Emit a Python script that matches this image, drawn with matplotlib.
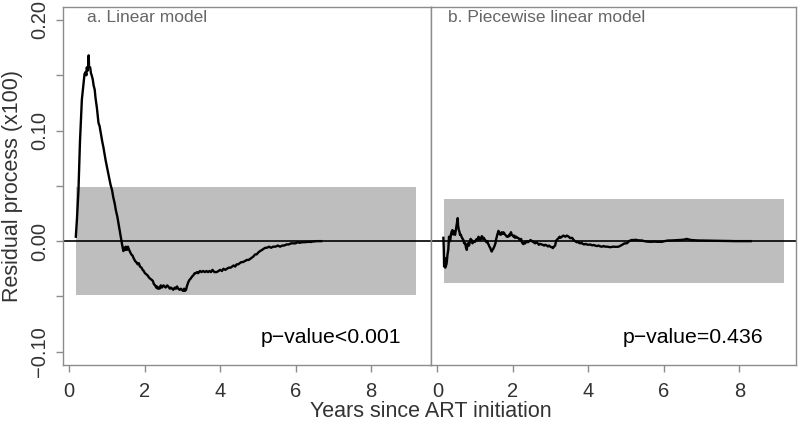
import matplotlib
matplotlib.use("Agg")
import matplotlib.pyplot as plt
from matplotlib.patches import Rectangle
from matplotlib.ticker import FixedLocator, FuncFormatter

plt.rcParams['font.family'] = ['Liberation Sans', 'DejaVu Sans']

# ---- data: (years, residual) pairs ----
lin_pts = [(0.18, 0.004), (0.21, 0.020), (0.25, 0.046), (0.29, 0.090), (0.32, 0.112), (0.34, 0.128),
           (0.37, 0.138), (0.41, 0.151), (0.44, 0.153), (0.46, 0.150), (0.47, 0.157), (0.49, 0.154),
           (0.51, 0.160), (0.52, 0.168), (0.53, 0.158), (0.56, 0.157), (0.58, 0.152), (0.60, 0.150),
           (0.63, 0.146), (0.65, 0.141), (0.68, 0.137), (0.70, 0.130), (0.74, 0.120), (0.78, 0.107),
           (0.81, 0.104), (0.84, 0.098), (0.88, 0.090), (0.91, 0.085), (0.94, 0.079), (0.97, 0.073),
           (1.01, 0.066), (1.04, 0.061), (1.07, 0.056), (1.10, 0.051), (1.14, 0.046), (1.17, 0.040),
           (1.21, 0.034), (1.24, 0.028), (1.28, 0.022), (1.31, 0.016), (1.36, 0.006), (1.41, -0.004),
           (1.44, -0.009), (1.46, -0.006), (1.48, -0.008), (1.50, -0.005), (1.53, -0.008), (1.56, -0.005),
           (1.58, -0.007), (1.62, -0.010), (1.65, -0.012), (1.68, -0.013), (1.72, -0.016), (1.75, -0.018),
           (1.78, -0.019), (1.82, -0.021), (1.85, -0.020), (1.88, -0.023), (1.92, -0.024), (1.95, -0.026),
           (1.98, -0.027), (2.01, -0.029), (2.05, -0.030), (2.08, -0.031), (2.12, -0.033), (2.15, -0.034),
           (2.19, -0.035), (2.22, -0.036), (2.25, -0.039), (2.28, -0.040), (2.31, -0.042), (2.33, -0.041),
           (2.35, -0.043), (2.37, -0.042), (2.40, -0.043), (2.43, -0.040), (2.46, -0.042), (2.50, -0.040),
           (2.53, -0.041), (2.56, -0.042), (2.60, -0.040), (2.63, -0.041), (2.67, -0.043), (2.70, -0.042),
           (2.73, -0.043), (2.76, -0.044), (2.80, -0.042), (2.83, -0.043), (2.86, -0.041), (2.89, -0.043),
           (2.93, -0.044), (2.96, -0.043), (2.99, -0.044), (3.02, -0.045), (3.05, -0.043), (3.07, -0.045),
           (3.10, -0.044), (3.12, -0.041), (3.16, -0.037), (3.19, -0.035), (3.22, -0.034), (3.26, -0.032),
           (3.29, -0.031), (3.33, -0.029), (3.36, -0.029), (3.39, -0.028), (3.42, -0.029), (3.47, -0.027),
           (3.51, -0.028), (3.55, -0.027), (3.60, -0.028), (3.64, -0.027), (3.68, -0.028), (3.72, -0.027),
           (3.76, -0.028), (3.80, -0.026), (3.85, -0.028), (3.91, -0.028), (3.96, -0.027), (4.00, -0.026),
           (4.05, -0.027), (4.09, -0.025), (4.14, -0.026), (4.18, -0.025), (4.23, -0.024), (4.28, -0.024),
           (4.32, -0.023), (4.36, -0.022), (4.40, -0.023), (4.44, -0.021), (4.48, -0.021), (4.52, -0.020),
           (4.56, -0.019), (4.60, -0.019), (4.66, -0.018), (4.71, -0.017), (4.76, -0.017), (4.80, -0.016),
           (4.84, -0.015), (4.88, -0.014), (4.93, -0.012), (4.97, -0.012), (5.02, -0.010), (5.06, -0.009),
           (5.11, -0.008), (5.15, -0.007), (5.20, -0.006), (5.24, -0.006), (5.30, -0.005), (5.35, -0.006),
           (5.41, -0.005), (5.47, -0.005), (5.53, -0.004), (5.59, -0.005), (5.65, -0.004), (5.70, -0.004),
           (5.76, -0.003), (5.82, -0.003), (5.88, -0.002), (5.94, -0.002), (6.00, -0.002), (6.05, -0.001),
           (6.11, -0.0015), (6.17, -0.001), (6.23, -0.001), (6.29, -0.0008), (6.35, -0.0006),
           (6.40, -0.0008), (6.45, -0.0004), (6.50, -0.0002), (6.58, 0.0), (6.68, 0.0)]

pw_pts = [(0.16, 0.003), (0.17, -0.006), (0.18, -0.023), (0.19, -0.015), (0.20, -0.020), (0.21, -0.024),
          (0.22, -0.017), (0.23, -0.022), (0.25, -0.019), (0.27, -0.012), (0.29, -0.008), (0.31, 0.004),
          (0.33, 0.001), (0.34, 0.0), (0.36, 0.006), (0.38, 0.0087), (0.40, 0.010), (0.42, 0.006),
          (0.44, 0.009), (0.45, 0.008), (0.47, 0.0057), (0.49, 0.010), (0.50, 0.012), (0.52, 0.016),
          (0.54, 0.0208), (0.55, 0.014), (0.57, 0.010), (0.59, 0.008), (0.60, 0.0057), (0.62, 0.006),
          (0.64, 0.004), (0.66, 0.0027), (0.69, 0.001), (0.71, -0.002), (0.74, -0.002), (0.76, -0.006),
          (0.78, -0.0079), (0.80, -0.003), (0.82, -0.0018), (0.84, -0.004), (0.86, -0.001), (0.88, 0.002),
          (0.91, 0.001), (0.93, -0.002), (0.95, -0.001), (0.98, 0.0), (1.00, -0.0006), (1.02, 0.001),
          (1.05, 0.002), (1.07, 0.001), (1.09, 0.004), (1.12, 0.002), (1.14, 0.001), (1.16, 0.003),
          (1.18, 0.0045), (1.21, 0.002), (1.23, 0.003), (1.25, 0.0015), (1.27, 0.001), (1.30, -0.001),
          (1.32, 0.0), (1.34, -0.002), (1.36, -0.0033), (1.38, -0.005), (1.40, -0.006), (1.42, -0.008),
          (1.44, -0.0094), (1.46, -0.008), (1.48, -0.007), (1.51, -0.0048), (1.54, -0.002), (1.56, 0.002),
          (1.59, 0.006), (1.62, 0.0093), (1.64, 0.007), (1.66, 0.006), (1.68, 0.0057), (1.70, 0.008),
          (1.73, 0.0065), (1.75, 0.008), (1.77, 0.0072), (1.79, 0.006), (1.82, 0.005), (1.84, 0.004),
          (1.86, 0.0045), (1.88, 0.004), (1.91, 0.006), (1.93, 0.005), (1.95, 0.0081), (1.97, 0.006),
          (2.00, 0.005), (2.02, 0.004), (2.04, 0.005), (2.06, 0.003), (2.09, 0.004), (2.12, 0.003),
          (2.15, 0.0027), (2.19, 0.001), (2.22, 0.002), (2.24, -0.001), (2.26, -0.002), (2.28, -0.0027),
          (2.31, -0.001), (2.33, -0.002), (2.35, -0.0006), (2.37, 0.0), (2.40, -0.001), (2.44, 0.0),
          (2.47, 0.001), (2.50, 0.0), (2.53, -0.0005), (2.55, -0.001), (2.59, -0.002), (2.62, -0.001),
          (2.66, -0.002), (2.69, -0.0033), (2.72, -0.0025), (2.76, -0.003), (2.79, -0.0033), (2.83, -0.004),
          (2.86, -0.0033), (2.90, -0.004), (2.93, -0.0048), (2.96, -0.004), (2.99, -0.005), (3.03, -0.0055),
          (3.06, -0.0063), (3.09, -0.005), (3.12, -0.004), (3.14, -0.0006), (3.16, 0.001), (3.19, 0.002),
          (3.21, 0.0027), (3.24, 0.004), (3.26, 0.003), (3.30, 0.004), (3.34, 0.005), (3.39, 0.004),
          (3.43, 0.005), (3.48, 0.004), (3.52, 0.0027), (3.57, 0.003), (3.61, 0.001), (3.65, 0.0),
          (3.69, -0.001), (3.72, -0.0005), (3.75, -0.0015), (3.78, -0.002), (3.82, -0.0015), (3.85, -0.0025),
          (3.89, -0.003), (3.92, -0.0025), (3.96, -0.003), (4.01, -0.0033), (4.05, -0.003), (4.10, -0.0038),
          (4.14, -0.0035), (4.18, -0.004), (4.23, -0.0045), (4.27, -0.004), (4.32, -0.0048), (4.36, -0.005),
          (4.41, -0.0045), (4.45, -0.005), (4.50, -0.005), (4.58, -0.0055), (4.66, -0.005), (4.74, -0.0052),
          (4.80, -0.005), (4.86, -0.004), (4.91, -0.003), (4.96, -0.002), (5.02, -0.002), (5.08, 0.0),
          (5.14, 0.001), (5.20, 0.001), (5.26, 0.0012), (5.31, 0.0008), (5.37, 0.0006), (5.42, 0.0006),
          (5.48, 0.0), (5.55, -0.0004), (5.62, -0.0006), (5.68, -0.0006), (5.75, -0.0004), (5.82, -0.0006),
          (5.88, -0.0006), (5.95, -0.0006), (6.02, 0.0), (6.08, 0.0004), (6.14, 0.0006), (6.20, 0.0006),
          (6.30, 0.0008), (6.40, 0.001), (6.50, 0.0012), (6.55, 0.0015), (6.60, 0.002), (6.66, 0.0015),
          (6.72, 0.001), (6.80, 0.0008), (6.90, 0.0006), (7.00, 0.0006), (7.11, 0.0005), (7.22, 0.0004),
          (7.33, 0.0004), (7.44, 0.0003), (7.55, 0.0002), (7.66, 0.0002), (7.77, 0.0001), (7.88, 0.0),
          (8.00, 0.0), (8.15, 0.0), (8.30, 0.0)]

lin_x = [p[0] for p in lin_pts]
lin_y = [p[1] for p in lin_pts]
pw_x = [p[0] for p in pw_pts]
pw_y = [p[1] for p in pw_pts]

lin_band = (0.18, 9.18, 0.049)      # x-start, x-end, half width
pw_band = (0.18, 9.17, 0.038)

titles = ["a. Linear model", "b. Piecewise linear model"]
pvals = ["p\u2212value<0.001", "p\u2212value=0.436"]
xticks = [0, 2, 4, 6, 8]
yticks = [-0.10, -0.05, 0.0, 0.05, 0.10, 0.15, 0.20]
ylabels_shown = [-0.10, 0.0, 0.10, 0.20]

# ---- figure ----
fig = plt.figure(figsize=(8.0, 4.24), dpi=100)
axL = fig.add_axes([0.0784, 0.1392, 0.46, 0.845])
axR = fig.add_axes([0.5384, 0.1392, 0.4566, 0.845])

spine_col = '#8c8c8c'
tick_col = '#333333'

def yfmt(v, pos):
    for s in ylabels_shown:
        if abs(v - s) < 1e-9:
            return f"{v:.2f}".replace('-', '\u2212')
    return ""

panels = [(axL, lin_x, lin_y, lin_band, (-0.167, 9.58), titles[0], pvals[0], 0.921, 0.066),
          (axR, pw_x, pw_y, pw_band, (-0.175, 9.50), titles[1], pvals[1], 0.910, 0.047)]

for ax, xs, ys, band, xl, title, pv, pvx, tx in panels:
    ax.set_xlim(*xl)
    ax.set_ylim(-0.112, 0.212)
    x0, x1, hw = band
    ax.add_patch(Rectangle((x0, -hw), x1 - x0, 2 * hw, facecolor='#bebebe',
                           edgecolor='none', zorder=1))
    ax.axhline(0, color='black', lw=1.2, zorder=2)
    ax.plot(xs, ys, color='black', lw=1.7, zorder=3)
    for s in ax.spines.values():
        s.set_color(spine_col)
        s.set_linewidth(1.0)
    ax.xaxis.set_major_locator(FixedLocator(xticks))
    ax.tick_params(axis='x', colors=spine_col, labelcolor=tick_col, labelsize=14.5,
                   length=5, width=1.0, pad=7, direction='out')
    ax.text(tx, 0.971, title, transform=ax.transAxes, ha='left', va='center',
            fontsize=12.5, color='#666666')
    ax.text(pvx, 0.0606, pv, transform=ax.transAxes, ha='right', va='baseline',
            fontsize=15.3, color='black')

axL.yaxis.set_major_locator(FixedLocator(yticks))
axL.yaxis.set_major_formatter(FuncFormatter(yfmt))
axL.tick_params(axis='y', colors=spine_col, labelcolor=tick_col, labelsize=14.5,
                length=5, width=1.0, pad=5, direction='out')
for lab in axL.get_yticklabels():
    lab.set_rotation(90)
    lab.set_va('center')
axL.set_ylabel("Residual process (x100)", fontsize=15.5, color=tick_col)
axL.yaxis.set_label_coords(-0.108, 0.5)
axR.set_yticks([])

fig.text(0.539, 0.030, "Years since ART initiation", ha='center', va='center',
         fontsize=15.5, color=tick_col)

fig.savefig("out.png", dpi=100)
